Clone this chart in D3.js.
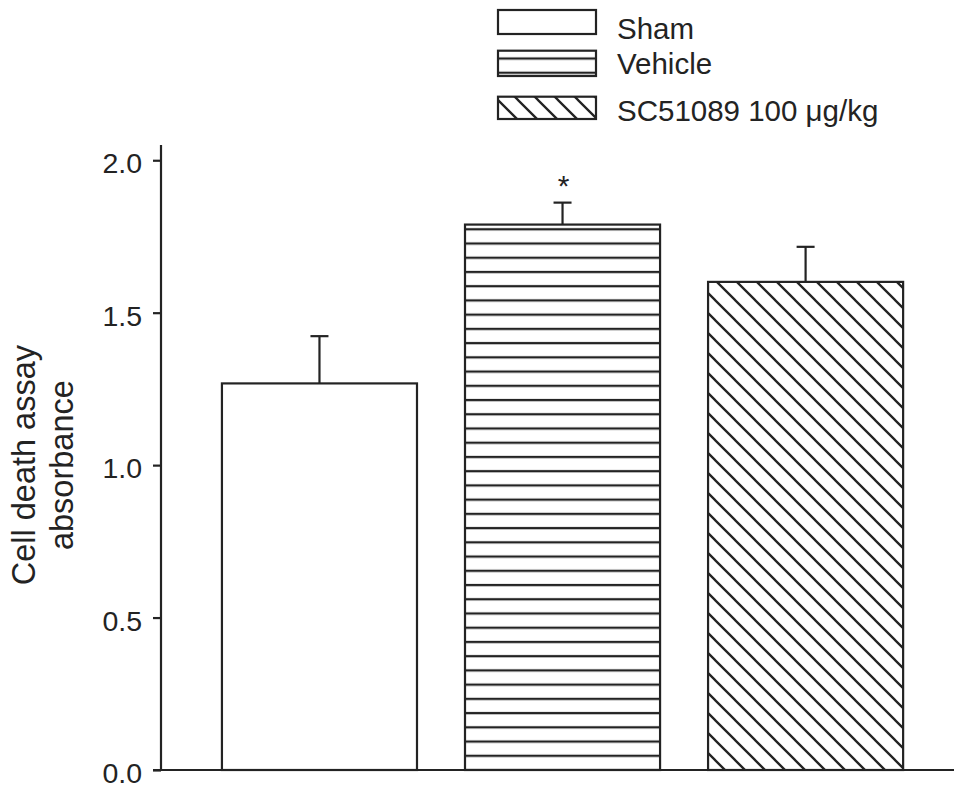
<!DOCTYPE html>
<html>
<head>
<meta charset="utf-8">
<script src="https://cdn.jsdelivr.net/npm/d3@7"></script>
<style>
  body { margin: 0; background: #fff; }
  svg { display: block; font-family: "Liberation Sans", Arial, Helvetica, sans-serif; }
</style>
</head>
<body>
<svg id="chart" width="955" height="788"></svg>
<script>
// data
const groups = ["Sham", "Vehicle", "SC51089 100 \u03bcg/kg"];
const means = [1.268, 1.789, 1.601];
const sems = [0.155, 0.072, 0.115];
const fills = ["none", "hstripe", "hatch"];
const starred = [false, true, false];
const yTicks = [0, 0.5, 1.0, 1.5, 2.0];

const ink = "#232323";
const svg = d3.select("#chart");
const defs = svg.append("defs");

// horizontal stripes
const hs = defs.append("pattern")
    .attr("id", "hstripe")
    .attr("patternUnits", "userSpaceOnUse")
    .attr("width", 20).attr("height", 14.23)
    .attr("y", 227.3);
hs.append("line")
    .attr("x1", 0).attr("x2", 20)
    .attr("y1", 2).attr("y2", 2)
    .attr("stroke", ink).attr("stroke-width", 2.3);

// diagonal "\" hatch
function hatch(id, off) {
    const p = defs.append("pattern")
        .attr("id", id)
        .attr("patternUnits", "userSpaceOnUse")
        .attr("width", 20).attr("height", 20)
        .attr("x", off);
    p.append("path")
        .attr("d", "M-5,-5L25,25M15,-5L25,5M-5,15L5,25")
        .attr("stroke", ink).attr("stroke-width", 2.3);
}
hatch("hatch", 15);
hatch("hatchLeg", 18);

const y = d3.scaleLinear().domain([0, 2.05]).range([770, 145]);
const x = d3.scaleBand().domain(groups)
    .range([161, 954])
    .paddingInner(0.1975)
    .paddingOuter(0.23)
    .align(0.545);

// axes
const yAxis = svg.append("g")
    .attr("transform", "translate(161,0)")
    .call(d3.axisLeft(y).tickValues(yTicks).tickFormat(d3.format(".1f"))
        .tickSize(8).tickPadding(11).tickSizeOuter(0));
yAxis.select(".domain").remove();
yAxis.selectAll(".tick line").attr("stroke", ink).attr("stroke-width", 2.2);
yAxis.selectAll(".tick text")
    .attr("fill", ink).attr("font-size", 28.5).attr("dy", "0.44em")
    .style("font-family", "'Liberation Sans', Arial, sans-serif");

svg.append("line")
    .attr("x1", 161).attr("x2", 161)
    .attr("y1", y(2.05)).attr("y2", y(0))
    .attr("stroke", ink).attr("stroke-width", 2.2);
svg.append("line")
    .attr("x1", 153).attr("x2", 954)
    .attr("y1", y(0)).attr("y2", y(0))
    .attr("stroke", ink).attr("stroke-width", 2.2);

// bars
const bars = svg.append("g");
groups.forEach((g, i) => {
    const fill = fills[i] === "none" ? "#fff" : `url(#${fills[i]})`;
    bars.append("rect")
        .attr("x", x(g)).attr("width", x.bandwidth())
        .attr("y", y(means[i])).attr("height", y(0) - y(means[i]))
        .attr("fill", "#fff");
    bars.append("rect")
        .attr("x", x(g)).attr("width", x.bandwidth())
        .attr("y", y(means[i])).attr("height", y(0) - y(means[i]))
        .attr("fill", fill)
        .attr("stroke", ink).attr("stroke-width", 2.2);

    const cx = x(g) + x.bandwidth() / 2;
    bars.append("line")
        .attr("x1", cx).attr("x2", cx)
        .attr("y1", y(means[i])).attr("y2", y(means[i] + sems[i]))
        .attr("stroke", ink).attr("stroke-width", 2.2);
    bars.append("line")
        .attr("x1", cx - 9).attr("x2", cx + 9)
        .attr("y1", y(means[i] + sems[i])).attr("y2", y(means[i] + sems[i]))
        .attr("stroke", ink).attr("stroke-width", 2.2);

    if (starred[i]) {
        bars.append("text")
            .attr("x", cx + 1).attr("y", y(means[i] + sems[i]) - 7)
            .attr("text-anchor", "middle")
            .attr("font-size", 30).attr("fill", ink)
            .text("*");
    }
});

// y label
svg.append("text")
    .attr("transform", "rotate(-90)")
    .attr("x", -y(1.0)).attr("text-anchor", "middle")
    .attr("font-size", 32.5).attr("fill", ink)
    .selectAll("tspan")
    .data(["Cell death assay", "absorbance"])
    .join("tspan")
    .attr("x", -y(1.0))
    .attr("y", (d, i) => i === 0 ? 35 : 73)
    .text(d => d);

// legend
const legBoxes = [[10, 34], [50.7, 76], [96.7, 119]];
const legBase = [39, 74, 120.5];
const legFill = ["#fff", "url(#hstripe)", "url(#hatchLeg)"];
const leg = svg.append("g");
groups.forEach((g, i) => {
    leg.append("rect")
        .attr("x", 498).attr("width", 98)
        .attr("y", legBoxes[i][0]).attr("height", legBoxes[i][1] - legBoxes[i][0])
        .attr("fill", legFill[i])
        .attr("stroke", ink).attr("stroke-width", 2.2);
    leg.append("text")
        .attr("x", 617).attr("y", legBase[i])
        .attr("font-size", 29.5).attr("fill", ink)
        .text(g);
});
</script>
</body>
</html>
